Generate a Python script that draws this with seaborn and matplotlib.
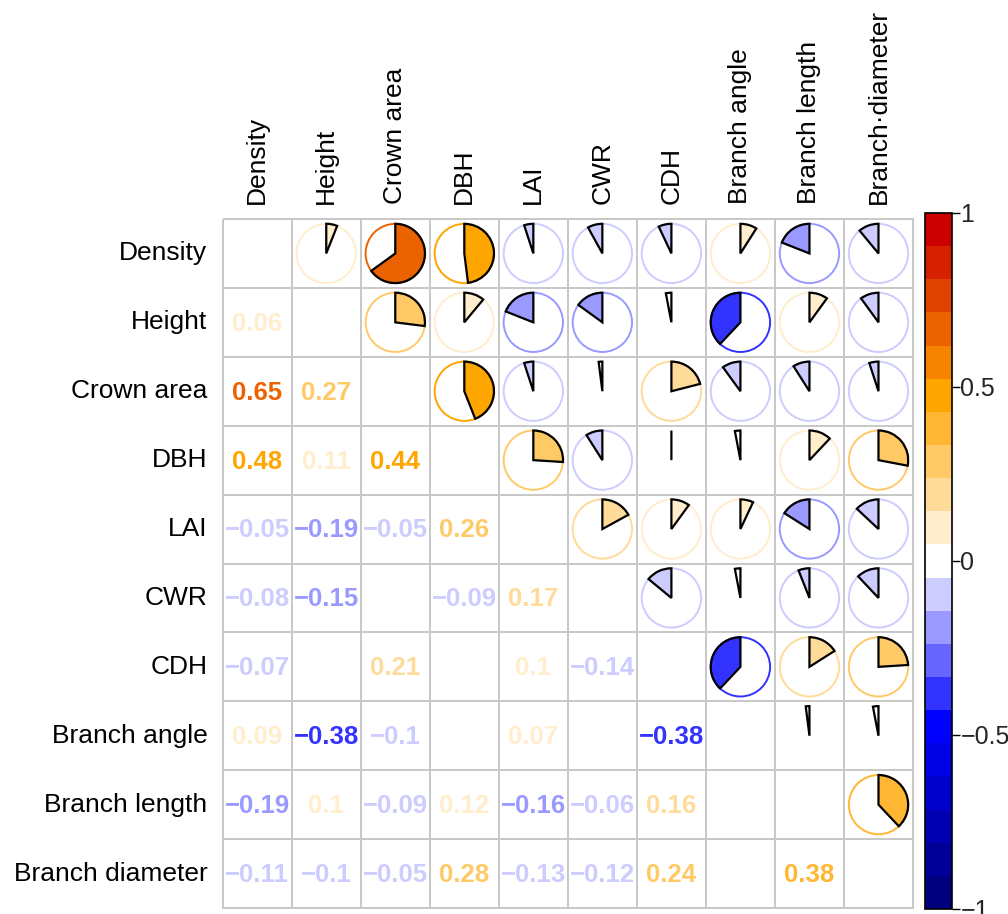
import numpy as np
import pandas as pd
import matplotlib
matplotlib.use("Agg")
import matplotlib.pyplot as plt
from matplotlib.colors import LinearSegmentedColormap, ListedColormap
from matplotlib.patches import Wedge, Circle
import seaborn as sns

# Trait names (rows / columns) and the lower-triangle correlation coefficients
traits = ["Density", "Height", "Crown area", "DBH", "LAI", "CWR", "CDH",
          "Branch angle", "Branch length", "Branch diameter"]
col_labels = ["Density", "Height", "Crown area", "DBH", "LAI", "CWR", "CDH",
              "Branch angle", "Branch length", "Branch\u00b7diameter"]

r_height = [0.06]
r_crown = [0.65, 0.27]
r_dbh = [0.48, 0.11, 0.44]
r_lai = [-0.05, -0.19, -0.05, 0.26]
r_cwr = [-0.08, -0.15, -0.02, -0.09, 0.17]
r_cdh = [-0.07, -0.03, 0.21, 0.00, 0.10, -0.14]
r_angle = [0.09, -0.38, -0.10, -0.03, 0.07, -0.03, -0.38]
r_length = [-0.19, 0.10, -0.09, 0.12, -0.16, -0.06, 0.16, -0.02]
r_diam = [-0.11, -0.10, -0.05, 0.28, -0.13, -0.12, 0.24, -0.03, 0.38]

lower_rows = [[], r_height, r_crown, r_dbh, r_lai, r_cwr, r_cdh,
              r_angle, r_length, r_diam]

n = len(traits)
corr = np.eye(n)
for i, row in enumerate(lower_rows):
    for j, v in enumerate(row):
        corr[i, j] = v
        corr[j, i] = v
corr_df = pd.DataFrame(corr, index=traits, columns=col_labels)

# 21-step diverging palette: navy - blue - white - orange - red
base = LinearSegmentedColormap.from_list(
    "div", ["#00007F", "#0000FF", "#FFFFFF", "#FFA500", "#CC0000"], N=21)
cmap = ListedColormap([base(k) for k in range(21)])
norm = matplotlib.colors.Normalize(vmin=-1, vmax=1)


def col_of(v):
    return cmap(norm(v))


def fmt(v):
    s = f"{v:.2f}".rstrip("0").rstrip(".")
    if s in ("-0", ""):
        s = "0"
    return s.replace("-", "\u2212")


sns.set_theme(style="white")
plt.rcParams["font.family"] = ["Liberation Sans", "DejaVu Sans"]

fig = plt.figure(figsize=(10.08, 9.14), dpi=100)
ax = fig.add_axes([222.7 / 1008, 1 - 908 / 914, 690.3 / 1008, 689 / 914])
cax = fig.add_axes([925 / 1008, 1 - 909 / 914, 27 / 1008, 696 / 914])

# White grid of cells with light-grey borders, plus the colour key
blank = pd.DataFrame(np.zeros((n, n)), index=traits, columns=col_labels)
sns.heatmap(blank, ax=ax, cbar_ax=cax, cmap=cmap, vmin=-1, vmax=1,
            linewidths=1.1, linecolor="#C8C8C8",
            xticklabels=col_labels, yticklabels=traits)
ax.collections[0].set_clip_on(False)

# Lower triangle: coefficients as coloured numbers
for i in range(n):
    for j in range(i):
        v = corr[i, j]
        ax.text(j + 0.5, i + 0.52, fmt(v), ha="center", va="center",
                fontsize=18.5, fontweight="bold", color=col_of(v))

# Upper triangle: pie glyphs (clockwise for positive, anticlockwise for negative)
R = 0.43
for i in range(n):
    for j in range(i + 1, n):
        v = corr[i, j]
        c = col_of(v)
        cx, cy = j + 0.5, i + 0.5
        ax.add_patch(Circle((cx, cy), R, fill=False, edgecolor=c, lw=1.4))
        span = 360 * abs(v)
        # y axis is inverted, so data angle 270 is 12 o'clock on screen
        if v >= 0:
            t1, t2 = 270, 270 + span
        else:
            t1, t2 = 270 - span, 270
        ax.add_patch(Wedge((cx, cy), R, t1, t2, facecolor=c,
                           edgecolor="black", lw=1.6))

ax.xaxis.tick_top()
ax.tick_params(axis="x", labelrotation=90, length=0, pad=11, labelsize=19,
               labelcolor="black")
ax.tick_params(axis="y", labelrotation=0, length=0, pad=11, labelsize=19,
               labelcolor="black")
for t in ax.get_xticklabels():
    t.set_ha("center")
    t.set_va("bottom")
ax.set_xlabel("")
ax.set_ylabel("")

# Colour key styling
ticks = [-1, -0.5, 0, 0.5, 1]
cax.set_yticks(ticks)
cax.set_yticklabels([fmt(t) for t in ticks])
cax.tick_params(axis="y", length=6, width=1, color="black", direction="out",
                labelsize=18, pad=0, right=True, left=False)
cb = ax.collections[0].colorbar
cb.outline.set_edgecolor("black")
cb.outline.set_linewidth(1.2)

fig.savefig("out.png", dpi=100, facecolor="white")
